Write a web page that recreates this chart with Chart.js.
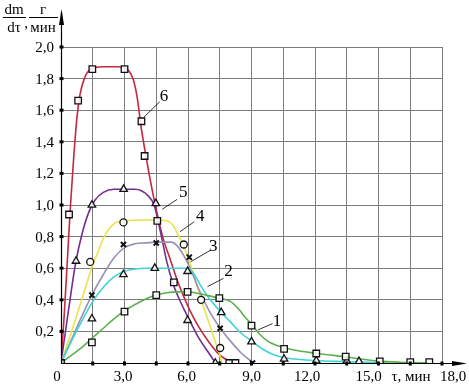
<!DOCTYPE html>
<html><head><meta charset="utf-8">
<script src="https://cdn.jsdelivr.net/npm/chart.js@4/dist/chart.umd.min.js"></script>
<style>html,body{margin:0;padding:0;background:#fff}</style>
</head><body>
<canvas id="c" width="469" height="389" style="display:block"></canvas>
<script>
// ---- data ----
const xTickValues = [0, 3, 6, 9, 12, 15, 18];
const xTickLabels = ['0', '3,0', '6,0', '9,0', '12,0', '15,0', '18,0'];
const yTickValues = [0.2, 0.4, 0.6, 0.8, 1.0, 1.2, 1.4, 1.6, 1.8, 2.0];
const yTickLabels = ['0,2', '0,4', '0,6', '0,8', '1,0', '1,2', '1,4', '1,6', '1,8', '2,0'];
const seriesNames = ['1', '2', '3', '4', '5', '6'];

// smooth curves (x = τ, min ; y = dm/dτ, g/min)
const curve1 = [[0,0],[0.5,0.05],[1.0,0.1],[1.5,0.16],[2.0,0.22],[2.5,0.28],[3.0,0.33],[3.5,0.37],[4.0,0.405],[4.5,0.43],[5.0,0.445],[5.5,0.45],[6.0,0.45],[6.5,0.44],[7.0,0.425],[7.5,0.41],[8.0,0.39],[8.4,0.34],[8.7,0.29],[9.0,0.245],[9.4,0.18],[9.8,0.135],[10.2,0.11],[10.6,0.095],[11.0,0.082],[12.0,0.062],[12.6,0.052],[13.5,0.038],[14.0,0.028],[15.0,0.012],[16.0,0.005],[17.0,0.002],[17.5,0]];
const curve2 = [[0,0],[0.5,0.14],[1.0,0.27],[1.5,0.39],[2.0,0.48],[2.5,0.545],[3.0,0.58],[3.5,0.595],[4.0,0.6],[5.0,0.6],[6.0,0.6],[6.3,0.56],[6.6,0.49],[7.0,0.41],[7.5,0.33],[8.0,0.26],[8.5,0.19],[9.0,0.14],[9.5,0.09],[10.0,0.055],[10.5,0.035],[11.0,0.025],[12.0,0.016],[13.0,0.01],[14.0,0.006],[15.0,0.002],[15.5,0]];
const curve3 = [[0,0],[0.5,0.15],[1.0,0.3],[1.5,0.44],[2.0,0.56],[2.5,0.665],[3.0,0.73],[3.5,0.755],[4.0,0.76],[4.5,0.765],[5.2,0.765],[5.5,0.74],[5.8,0.68],[6.1,0.6],[6.5,0.47],[7.0,0.33],[7.5,0.225],[8.0,0.14],[8.5,0.065],[9.0,0.01],[9.1,0]];
const curve4 = [[0,0],[0.5,0.2],[1.0,0.41],[1.5,0.62],[1.8,0.72],[2.0,0.79],[2.3,0.855],[2.6,0.89],[3.0,0.9],[4.0,0.905],[5.0,0.9],[5.3,0.87],[5.5,0.82],[5.8,0.74],[6.1,0.63],[6.4,0.5],[6.7,0.37],[7.0,0.25],[7.3,0.13],[7.5,0.05],[7.6,0]];
const curve5 = [[0,0],[0.35,0.33],[0.7,0.64],[1.0,0.82],[1.3,0.95],[1.6,1.03],[2.0,1.08],[2.5,1.1],[3.0,1.1],[3.5,1.1],[3.8,1.09],[4.1,1.06],[4.4,1.0],[4.7,0.83],[5.0,0.64],[5.3,0.5],[5.6,0.4],[6.0,0.29],[6.5,0.16],[7.0,0.06],[7.3,0]];
const curve6 = [[0,0],[0.15,0.3],[0.3,0.65],[0.45,1.0],[0.6,1.3],[0.75,1.55],[0.9,1.7],[1.1,1.8],[1.4,1.86],[2.0,1.875],[2.6,1.875],[3.0,1.87],[3.2,1.85],[3.4,1.8],[3.6,1.68],[3.8,1.48],[4.0,1.32],[4.2,1.17],[4.5,0.97],[4.8,0.8],[5.2,0.64],[5.5,0.52],[5.8,0.42],[6.1,0.33],[6.5,0.23],[7.0,0.13],[7.5,0.05],[8.0,0.01],[8.2,0]];

// experimental points (markers)
const points1 = [[0,0],[1.46,0.13],[3.0,0.325],[4.5,0.43],[5.98,0.45],[7.48,0.41],[9.0,0.236],[10.54,0.09],[12.06,0.06],[13.45,0.04],[15.06,0.01],[16.5,0.005],[17.4,0.005]];
const points2 = [[0,0],[1.46,0.28],[2.95,0.56],[4.43,0.6],[5.98,0.58],[7.57,0.32],[9.0,0.135],[10.54,0.025],[12.06,0.015],[13.5,0.012],[14.08,0.01]];
const points3 = [[0,0],[1.46,0.43],[2.95,0.75],[4.5,0.76],[6.06,0.67],[7.52,0.22],[9.05,0]];
const points4 = [[0,0],[1.38,0.64],[2.95,0.89],[5.8,0.75],[6.62,0.4],[7.52,0.095]];
const points5 = [[0,0],[0.71,0.645],[1.46,1.0],[2.96,1.1],[4.48,1.01],[5.98,0.27],[7.29,0]];
const points6 = [[0,0],[0.38,0.94],[0.81,1.66],[1.48,1.86],[3.0,1.86],[3.8,1.53],[3.95,1.31],[4.55,0.9],[5.33,0.51],[7.95,0],[8.24,0]];

// curve number labels: [text x, text y, leader from x, y, leader to x, y] in data units
const labelAnchors = [
  [10.2, 0.265, 10.0, 0.25, 9.3, 0.209],
  [7.91, 0.576, 7.68, 0.536, 6.92, 0.483],
  [7.19, 0.734, 7.04, 0.712, 6.13, 0.641],
  [6.58, 0.924, 6.3, 0.894, 5.62, 0.831],
  [5.77, 1.076, 5.49, 1.036, 4.78, 0.973],
  [4.87, 1.684, 4.67, 1.654, 3.91, 1.555]
];

// ---- styles ----
const lineColors = ['#5cae4e', '#3fd4d6', '#9a8fb2', '#ebe24c', '#752c8e', '#c5283e'];
const markerStyles = ['rect', 'triangle', 'crossRot', 'circle', 'triangle', 'rect'];
const curves = [curve1, curve2, curve3, curve4, curve5, curve6];
const pts = [points1, points2, points3, points4, points5, points6];
const toXY = a => a.map(p => ({x: p[0], y: p[1]}));

const datasets = [];
curves.forEach((c, i) => {
  datasets.push({
    type: 'line', label: 'curve ' + seriesNames[i], data: toXY(c),
    borderColor: lineColors[i], borderWidth: 1.6, pointRadius: 0,
    cubicInterpolationMode: 'monotone', fill: false, order: 2
  });
});
pts.forEach((p, i) => {
  const st = markerStyles[i];
  datasets.push({
    type: 'scatter', label: 'points ' + seriesNames[i], data: toXY(p),
    showLine: false, pointStyle: st,
    pointRadius: st === 'rect' ? 4.6 : (st === 'triangle' ? 4.3 : (st === 'circle' ? 3.5 : 3.6)),
    pointBorderColor: '#111', pointBackgroundColor: st === 'crossRot' ? '#111' : 'rgba(255,255,255,0.85)',
    pointBorderWidth: st === 'crossRot' ? 2 : 1.3, order: 0
  });
});

const serif = '"Liberation Serif", "DejaVu Serif", serif';
const xLabelShift = [-4, -1.5, -1.5, 0, -8, -10, 11];

const overlay = {
  id: 'overlay',
  afterDraw(chart) {
    const ctx = chart.ctx, xs = chart.scales.x, ys = chart.scales.y;
    const x0 = Math.round(xs.getPixelForValue(0)) + 0.5;
    const y0 = Math.round(ys.getPixelForValue(0)) + 0.5;
    ctx.save();
    ctx.strokeStyle = '#000'; ctx.fillStyle = '#000'; ctx.lineWidth = 1.2;
    // axes
    ctx.beginPath(); ctx.moveTo(x0, y0); ctx.lineTo(x0, 12); ctx.stroke();
    ctx.beginPath(); ctx.moveTo(x0 - 2.5, 25); ctx.lineTo(x0, 9); ctx.lineTo(x0 + 2.5, 25); ctx.closePath(); ctx.fill();
    ctx.beginPath(); ctx.moveTo(x0, y0); ctx.lineTo(464, y0); ctx.stroke();
    ctx.beginPath(); ctx.moveTo(452, y0 - 2.5); ctx.lineTo(467, y0); ctx.lineTo(452, y0 + 2.5); ctx.closePath(); ctx.fill();
    // tick dots
    for (let v = 1.5; v <= 18.01; v += 1.5) {
      const px = xs.getPixelForValue(v);
      ctx.fillRect(px - 1.5, y0 - 2, 3, 4);
    }
    for (let v = 0.2; v <= 2.01; v += 0.2) {
      const py = ys.getPixelForValue(v);
      ctx.fillRect(x0 - 2, py - 1.5, 4, 3);
    }
    // tick labels
    ctx.font = '15px ' + serif;
    ctx.textBaseline = 'middle';
    ctx.textAlign = 'right';
    yTickValues.forEach((v, i) => ctx.fillText(yTickLabels[i], 54, ys.getPixelForValue(v) + 1));
    ctx.textAlign = 'center';
    xTickValues.forEach((v, i) => ctx.fillText(xTickLabels[i], xs.getPixelForValue(v) + xLabelShift[i], 377));
    ctx.fillText('τ, мин', 411, 377);
    // y-axis title: dm/dτ , г/мин
    ctx.font = '15px ' + serif;
    ctx.textAlign = 'center';
    ctx.fillText('dm', 14, 10);
    ctx.fillText('dτ', 14, 28);
    ctx.fillText('г', 43, 10);
    ctx.fillText('мин', 43, 28);
    ctx.fillText(',', 26, 24);
    ctx.lineWidth = 1;
    ctx.beginPath(); ctx.moveTo(3, 17.5); ctx.lineTo(26, 17.5); ctx.moveTo(29, 17.5); ctx.lineTo(58, 17.5); ctx.stroke();
    // curve labels
    ctx.font = '17px ' + serif;
    ctx.lineWidth = 0.8;
    labelAnchors.forEach((a, i) => {
      ctx.fillText(seriesNames[i], xs.getPixelForValue(a[0]), ys.getPixelForValue(a[1]));
      ctx.beginPath();
      ctx.moveTo(xs.getPixelForValue(a[2]), ys.getPixelForValue(a[3]));
      ctx.lineTo(xs.getPixelForValue(a[4]), ys.getPixelForValue(a[5]));
      ctx.stroke();
    });
    ctx.restore();
  }
};

new Chart(document.getElementById('c'), {
  type: 'scatter',
  data: { datasets },
  options: {
    responsive: false, animation: false, devicePixelRatio: 1,
    layout: { padding: { left: 61, top: 47, right: 27, bottom: 26 } },
    plugins: { legend: { display: false }, tooltip: { enabled: false } },
    scales: {
      x: {
        type: 'linear', min: 0, max: 18,
        ticks: { display: false, stepSize: 1.5 },
        grid: { color: '#7c7c7c', lineWidth: 1, drawTicks: false },
        border: { display: false },
        afterFit: s => { s.height = 0; }
      },
      y: {
        type: 'linear', min: 0, max: 2,
        ticks: { display: false, stepSize: 0.2 },
        grid: { color: '#7c7c7c', lineWidth: 1, drawTicks: false },
        border: { display: false },
        afterFit: s => { s.width = 0; }
      }
    }
  },
  plugins: [overlay]
});
</script>
</body></html>
